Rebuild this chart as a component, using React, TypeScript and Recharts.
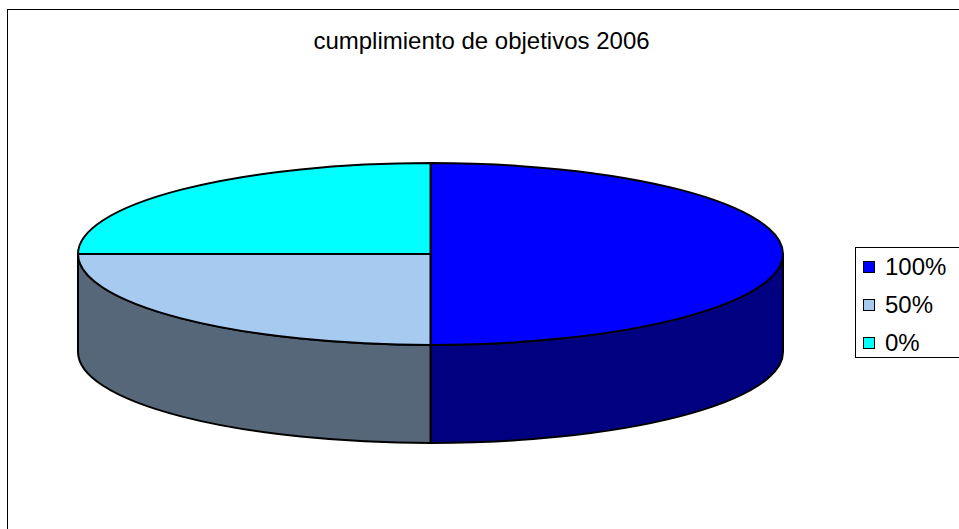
import React from 'react';
import { PieChart, Pie, Cell, Legend } from 'recharts';

// ---- data ----
const categories = ['100%', '50%', '0%'];
const values = [50, 25, 25];
const title = 'cumplimiento de objetivos 2006';

// ---- styles ----
const topColors = ['#0000FF', '#A6CAF0', '#00FFFF'];
const wallColors = ['#000080', '#556779', '#008080'];
const FONT = '"Liberation Sans", Arial, sans-serif';
const RY_RATIO = 91 / 352.5;
const DEPTH_RATIO = 98 / 352.5;

const data = categories.map((name, i) => ({ name, value: values[i] }));

function renderSlice(props: any) {
  const { cx, cy, outerRadius, startAngle, endAngle, fill } = props;
  const rx = outerRadius;
  const ry = rx * RY_RATIO;
  const depth = rx * DEPTH_RATIO;
  const P = (deg: number, dy = 0) => {
    const r = (deg * Math.PI) / 180;
    return [cx + rx * Math.cos(r), cy - ry * Math.sin(r) + dy];
  };
  const idx = topColors.indexOf(fill);
  const wallFill = idx >= 0 ? wallColors[idx] : '#333';
  const lo = Math.min(startAngle, endAngle);
  const hi = Math.max(startAngle, endAngle);
  const walls: string[] = [];
  for (const k of [-2, -1, 0, 1]) {
    const a = Math.max(lo, k * 360 - 180);
    const b = Math.min(hi, k * 360);
    if (b > a + 0.01) {
      const [x1, y1] = P(a);
      const [x2, y2] = P(b);
      walls.push(
        `M${x1},${y1} A${rx},${ry} 0 0 0 ${x2},${y2} L${x2},${y2 + depth} A${rx},${ry} 0 0 1 ${x1},${y1 + depth} Z`
      );
    }
  }
  const [sx, sy] = P(startAngle);
  const [ex, ey] = P(endAngle);
  const sweep = endAngle < startAngle ? 1 : 0;
  const large = Math.abs(endAngle - startAngle) > 180 ? 1 : 0;
  const top = `M${cx},${cy} L${sx},${sy} A${rx},${ry} 0 ${large} ${sweep} ${ex},${ey} Z`;
  return (
    <g>
      {walls.map((d, i) => (
        <path key={i} d={d} fill={wallFill} stroke="#000" strokeWidth={2} strokeLinejoin="round" />
      ))}
      <path d={top} fill={fill} stroke="#000" strokeWidth={2} strokeLinejoin="round" />
    </g>
  );
}

function LegendBox(props: any) {
  const payload = [...(props.payload || [])].sort(
    (a: any, b: any) => categories.indexOf(a.value) - categories.indexOf(b.value)
  );
  return (
    <div
      style={{
        position: 'absolute',
        left: 0,
        top: 0,
        width: 130,
        height: 109,
        border: '1px solid #000',
        background: '#fff',
        fontFamily: FONT,
        fontSize: 24,
        lineHeight: '38px',
        color: '#000',
      }}
    >
      {payload.map((p: any, i: number) => (
        <div key={i} style={{ position: 'relative', height: 38 }}>
          <div
            style={{
              position: 'absolute',
              left: 7,
              top: 13,
              width: 12,
              height: 12,
              boxSizing: 'border-box',
              border: '1px solid #000',
              background: p.color,
            }}
          />
          <span style={{ position: 'absolute', left: 29, top: 0, whiteSpace: 'nowrap' }}>{p.value}</span>
        </div>
      ))}
    </div>
  );
}

export default function App() {
  return (
    <div
      style={{
        position: 'fixed',
        left: 7,
        top: 9,
        width: 952,
        height: 520,
        overflow: 'hidden',
        background: '#fff',
      }}
    >
      <div
        style={{
          position: 'absolute',
          left: 0,
          top: 0,
          width: 960,
          height: 530,
          border: '1px solid #000',
        }}
      >
        <PieChart width={960} height={530} margin={{ top: 0, right: 0, bottom: 0, left: 0 }}>
          <Pie
            data={data}
            dataKey="value"
            nameKey="name"
            cx={422.5}
            cy={244}
            outerRadius={352.5}
            startAngle={90}
            endAngle={-270}
            isAnimationActive={false}
            shape={renderSlice}
            stroke="#000"
            legendType="square"
          >
            {data.map((d, i) => (
              <Cell key={d.name} fill={topColors[i]} />
            ))}
          </Pie>
          <Legend
            layout="vertical"
            align="right"
            verticalAlign="top"
            content={LegendBox}
            wrapperStyle={{ position: 'absolute', left: 847, top: 237, width: 130, height: 111 }}
          />
        </PieChart>
      </div>
      <div
        style={{
          position: 'absolute',
          left: 174.5,
          top: 18.3,
          width: 600,
          textAlign: 'center',
          fontFamily: FONT,
          fontSize: 24,
          lineHeight: 'normal',
          color: '#000',
          whiteSpace: 'nowrap',
        }}
      >
        {title}
      </div>
    </div>
  );
}
